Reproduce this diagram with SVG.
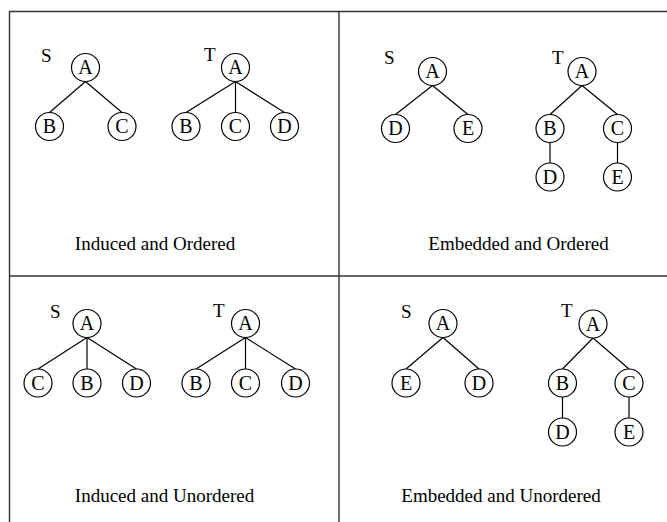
<svg xmlns="http://www.w3.org/2000/svg" width="667" height="522" viewBox="0 0 667 522">
<style>
  .frame { stroke: #333; stroke-width: 1.4; fill: none; }
  .edge { stroke: #000; stroke-width: 1.2; fill: none; }
  .node circle { fill: #fff; stroke: #000; stroke-width: 1.2; }
  text { font-family: "Liberation Serif", "Times New Roman", serif; fill: #000; }
  .lbl { font-size: 20px; text-anchor: middle; }
  .tree { font-size: 19px; }
  .cap { font-size: 19px; text-anchor: middle; }
</style>
<rect width="667" height="522" fill="#fff"/>
<g id="frame">
  <line class="frame" x1="9.5" y1="11.5" x2="667" y2="11.5"/>
  <line class="frame" x1="9.5" y1="11" x2="9.5" y2="522"/>
  <line class="frame" x1="339" y1="11" x2="339" y2="522"/>
  <line class="frame" x1="9.5" y1="276" x2="667" y2="276"/>
</g>
<g id="connectors">
  <!-- panel 1 -->
  <line class="edge" x1="85.5" y1="81.5" x2="49.5" y2="112.5"/>
  <line class="edge" x1="85.5" y1="81.5" x2="122" y2="112.5"/>
  <line class="edge" x1="235.5" y1="81.5" x2="186" y2="112.5"/>
  <line class="edge" x1="235.5" y1="81.5" x2="235.5" y2="112.5"/>
  <line class="edge" x1="235.5" y1="81.5" x2="284.5" y2="112.5"/>
  <!-- panel 2 -->
  <line class="edge" x1="432.5" y1="85.5" x2="395.5" y2="114.5"/>
  <line class="edge" x1="432.5" y1="85.5" x2="468" y2="114.5"/>
  <line class="edge" x1="582" y1="85.5" x2="550" y2="114.5"/>
  <line class="edge" x1="582" y1="85.5" x2="617.5" y2="114.5"/>
  <line class="edge" x1="550" y1="142.5" x2="550" y2="163"/>
  <line class="edge" x1="617.5" y1="142.5" x2="617.5" y2="163"/>
  <!-- panel 3 -->
  <line class="edge" x1="87" y1="337.5" x2="38" y2="369"/>
  <line class="edge" x1="87" y1="337.5" x2="87" y2="369"/>
  <line class="edge" x1="87" y1="337.5" x2="136.5" y2="369"/>
  <line class="edge" x1="245.5" y1="337.5" x2="196" y2="369"/>
  <line class="edge" x1="245.5" y1="337.5" x2="245.5" y2="369"/>
  <line class="edge" x1="245.5" y1="337.5" x2="295.5" y2="369"/>
  <!-- panel 4 -->
  <line class="edge" x1="443" y1="337.5" x2="406" y2="369"/>
  <line class="edge" x1="443" y1="337.5" x2="479" y2="369"/>
  <line class="edge" x1="593" y1="338" x2="562.5" y2="369"/>
  <line class="edge" x1="593" y1="338" x2="629" y2="369"/>
  <line class="edge" x1="562.5" y1="397" x2="562.5" y2="418"/>
  <line class="edge" x1="629" y1="397" x2="629" y2="418"/>
</g>
<!-- Panel 1: Induced and Ordered -->
<g id="p1-labels">
  <text class="tree" x="41" y="62">S</text>
  <text class="tree" x="204" y="61">T</text>
  <text class="cap" x="155" y="250">Induced and Ordered</text>
</g>
<g id="p1-S-A" class="node"><circle cx="85.5" cy="67.5" r="14"/><text class="lbl" x="85.5" y="74">A</text></g>
<g id="p1-S-B" class="node"><circle cx="49.5" cy="126.5" r="14"/><text class="lbl" x="49.5" y="133">B</text></g>
<g id="p1-S-C" class="node"><circle cx="122" cy="126.5" r="14"/><text class="lbl" x="122" y="133">C</text></g>
<g id="p1-T-A" class="node"><circle cx="235.5" cy="67.5" r="14"/><text class="lbl" x="235.5" y="74">A</text></g>
<g id="p1-T-B" class="node"><circle cx="186" cy="126.5" r="14"/><text class="lbl" x="186" y="133">B</text></g>
<g id="p1-T-C" class="node"><circle cx="235.5" cy="126.5" r="14"/><text class="lbl" x="235.5" y="133">C</text></g>
<g id="p1-T-D" class="node"><circle cx="284.5" cy="126.5" r="14"/><text class="lbl" x="284.5" y="133">D</text></g>
<!-- Panel 2: Embedded and Ordered -->
<g id="p2-labels">
  <text class="tree" x="384" y="64">S</text>
  <text class="tree" x="552" y="64">T</text>
  <text class="cap" x="518.5" y="250">Embedded and Ordered</text>
</g>
<g id="p2-S-A" class="node"><circle cx="432.5" cy="71.5" r="14"/><text class="lbl" x="432.5" y="78">A</text></g>
<g id="p2-S-D" class="node"><circle cx="395.5" cy="128.5" r="14"/><text class="lbl" x="395.5" y="135">D</text></g>
<g id="p2-S-E" class="node"><circle cx="468" cy="128.5" r="14"/><text class="lbl" x="468" y="135">E</text></g>
<g id="p2-T-A" class="node"><circle cx="582" cy="71.5" r="14"/><text class="lbl" x="582" y="78">A</text></g>
<g id="p2-T-B" class="node"><circle cx="550" cy="128.5" r="14"/><text class="lbl" x="550" y="135">B</text></g>
<g id="p2-T-C" class="node"><circle cx="617.5" cy="128.5" r="14"/><text class="lbl" x="617.5" y="135">C</text></g>
<g id="p2-T-D" class="node"><circle cx="550" cy="177" r="14"/><text class="lbl" x="550" y="183.5">D</text></g>
<g id="p2-T-E" class="node"><circle cx="617.5" cy="177" r="14"/><text class="lbl" x="617.5" y="183.5">E</text></g>
<!-- Panel 3: Induced and Unordered -->
<g id="p3-labels">
  <text class="tree" x="50" y="318">S</text>
  <text class="tree" x="213" y="317">T</text>
  <text class="cap" x="164.5" y="501.5">Induced and Unordered</text>
</g>
<g id="p3-S-A" class="node"><circle cx="87" cy="323.5" r="14"/><text class="lbl" x="87" y="330">A</text></g>
<g id="p3-S-C" class="node"><circle cx="38" cy="383" r="14"/><text class="lbl" x="38" y="389.5">C</text></g>
<g id="p3-S-B" class="node"><circle cx="87" cy="383" r="14"/><text class="lbl" x="87" y="389.5">B</text></g>
<g id="p3-S-D" class="node"><circle cx="136.5" cy="383" r="14"/><text class="lbl" x="136.5" y="389.5">D</text></g>
<g id="p3-T-A" class="node"><circle cx="245.5" cy="323.5" r="14"/><text class="lbl" x="245.5" y="330">A</text></g>
<g id="p3-T-B" class="node"><circle cx="196" cy="383" r="14"/><text class="lbl" x="196" y="389.5">B</text></g>
<g id="p3-T-C" class="node"><circle cx="245.5" cy="383" r="14"/><text class="lbl" x="245.5" y="389.5">C</text></g>
<g id="p3-T-D" class="node"><circle cx="295.5" cy="383" r="14"/><text class="lbl" x="295.5" y="389.5">D</text></g>
<!-- Panel 4: Embedded and Unordered -->
<g id="p4-labels">
  <text class="tree" x="401" y="318">S</text>
  <text class="tree" x="561" y="317">T</text>
  <text class="cap" x="501" y="501.5">Embedded and Unordered</text>
</g>
<g id="p4-S-A" class="node"><circle cx="443" cy="323.5" r="14"/><text class="lbl" x="443" y="330">A</text></g>
<g id="p4-S-E" class="node"><circle cx="406" cy="383" r="14"/><text class="lbl" x="406" y="389.5">E</text></g>
<g id="p4-S-D" class="node"><circle cx="479" cy="383" r="14"/><text class="lbl" x="479" y="389.5">D</text></g>
<g id="p4-T-A" class="node"><circle cx="593" cy="324" r="14"/><text class="lbl" x="593" y="330.5">A</text></g>
<g id="p4-T-B" class="node"><circle cx="562.5" cy="383" r="14"/><text class="lbl" x="562.5" y="389.5">B</text></g>
<g id="p4-T-C" class="node"><circle cx="629" cy="383" r="14"/><text class="lbl" x="629" y="389.5">C</text></g>
<g id="p4-T-D" class="node"><circle cx="562.5" cy="432" r="14"/><text class="lbl" x="562.5" y="438.5">D</text></g>
<g id="p4-T-E" class="node"><circle cx="629" cy="432" r="14"/><text class="lbl" x="629" y="438.5">E</text></g>
</svg>
